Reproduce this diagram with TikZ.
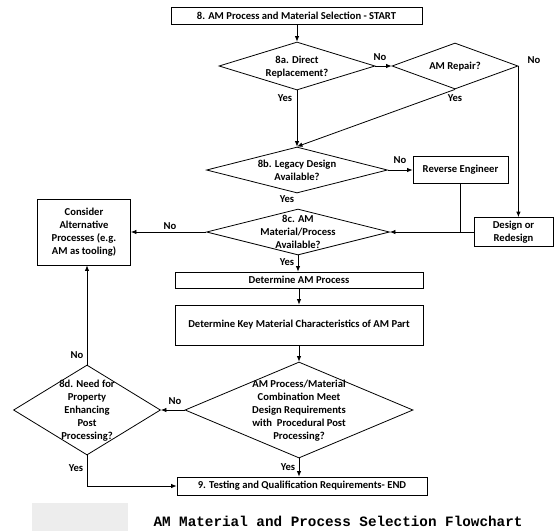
\documentclass[tikz,border=0pt]{standalone}
\usepackage{fontspec}
\setmainfont{Carlito}
\newfontfamily\capfont{Liberation Mono}
\usetikzlibrary{shapes.geometric,arrows.meta}
% text set inside a diamond without widening it
\newcommand\dtext[1]{\smash{\raisebox{-4pt}{\makebox[0pt]{\begin{tabular}{@{}c@{}}#1\end{tabular}}}}}

\begin{document}
\begin{tikzpicture}[x=1pt,y=-1pt,
  every node/.style={font=\fontsize{10.6}{13}\selectfont\bfseries},
  box/.style={draw, line width=0.8pt, inner sep=0pt, align=center},
  decision/.style={diamond, draw, line width=0.8pt, inner sep=0pt},
  lbl/.style={inner sep=0pt},
  flow/.style={line width=0.8pt, -{Latex[length=5.5pt,width=4.5pt]}},
  link/.style={line width=0.8pt}]

\useasboundingbox (0,0) rectangle (556,531);
\fill[white] (0,0) rectangle (556,531);

% main column
\node[box, minimum width=251pt, minimum height=17pt] (start) at (296.5,15.5) {8. AM Process and Material Selection - START};
\node[decision, minimum width=156pt, minimum height=48pt] (a8) at (297,66) {\dtext{8a. Direct\\Replacement?}};
\node[decision, minimum width=126pt, minimum height=46pt] (repair) at (455,66) {\dtext{AM Repair?}};
\node[decision, minimum width=181pt, minimum height=46pt] (b8) at (297,170) {\dtext{8b. Legacy Design\\Available?}};
\node[box, minimum width=95pt, minimum height=27pt] (rev) at (460.5,170) {Reverse Engineer};
\node[box, minimum width=79pt, minimum height=29pt] (design) at (513.5,232) {Design or\\Redesign};
\node[decision, minimum width=183pt, minimum height=46pt] (c8) at (298,232) {\dtext{8c. AM\\Material/Process\\Available?}};
\node[box, minimum width=93pt, minimum height=66pt] (alt) at (84,232) {Consider\\Alternative\\Processes (e.g.\\AM as tooling)};
\node[box, minimum width=248pt, minimum height=16pt] (detp) at (299,280) {Determine AM Process};
\node[box, minimum width=248pt, minimum height=40pt] (key) at (299,325) {Determine Key Material Characteristics of AM Part};
\node[decision, minimum width=228pt, minimum height=96pt] (combo) at (299,410) {\dtext{AM Process/Material\\Combination Meet\\Design Requirements\\with~ Procedural Post\\Processing?}};
\node[decision, minimum width=147pt, minimum height=90pt] (d8) at (87,410) {\dtext{8d. Need for\\Property\\Enhancing\\Post\\Processing?}};
\node[box, minimum width=250pt, minimum height=18pt] (test) at (302,486) {9. Testing and Qualification Requirements- END};

% connectors
\draw[flow] (a8.north |- start.south) -- (a8.north);
\draw[flow] (a8.east) -- (repair.west);
\draw[flow] (a8.south) -- (b8.north);
\draw[flow] (repair.south) -- (b8.north);
\draw[flow] (repair.east) -- (repair.east |- design.north);
\draw[flow] (b8.east) -- (rev.west);
\draw[link] (rev.south) -- (rev.south |- design.west);
\draw[flow] (design.west) -- (c8.east);
\draw[flow] (c8.west) -- (alt.east);
\draw[flow] (c8.south) -- (c8.south |- detp.north);
\draw[flow] (detp.south) -- (key.north);
\draw[flow] (key.south) -- (combo.north);
\draw[flow] (combo.west) -- (d8.east);
\draw[flow] (d8.north) -- (d8.north |- alt.south);
\draw[flow] (d8.south) |- (test.west);
\draw[flow] (combo.south) -- (combo.south |- test.north);

% branch labels
\node[lbl] (no1) at (380,57) {No};
\node[lbl] (no2) at (534,60) {No};
\node[lbl] (yes1) at (285,98) {Yes};
\node[lbl] (yes2) at (455,98) {Yes};
\node[lbl] (no3) at (400,160) {No};
\node[lbl] (yes3) at (287,199) {Yes};
\node[lbl] (no4) at (170,226) {No};
\node[lbl] (yes4) at (287,262) {Yes};
\node[lbl] (no5) at (175,401) {No};
\node[lbl] (no6) at (77,355) {No};
\node[lbl] (yes5) at (76,468) {Yes};
\node[lbl] (yes6) at (288,467) {Yes};

% caption
\fill[gray!14] (32,503) rectangle (128,531);
\node[inner sep=0pt, font=\capfont\bfseries\fontsize{14.3}{15}\selectfont] (caption) at (338,521) {AM Material and Process Selection Flowchart};
\end{tikzpicture}
\end{document}
